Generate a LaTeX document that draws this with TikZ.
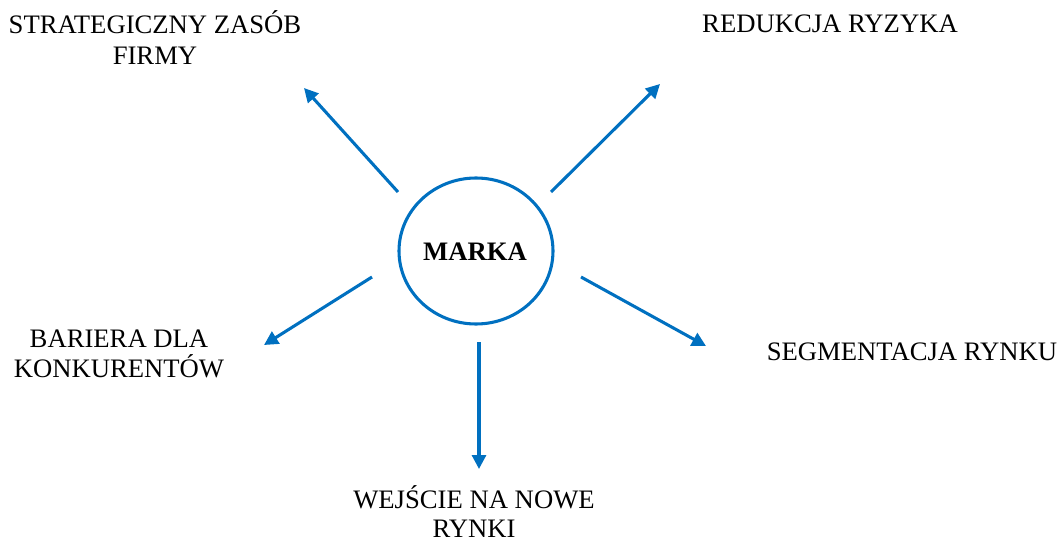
\documentclass[tikz,border=0pt]{standalone}
\usepackage{fontspec}
\setmainfont{Liberation Serif}
\usetikzlibrary{arrows.meta}
\definecolor{wordblue}{HTML}{0070C0}
\begin{document}
\begin{tikzpicture}[x=0.75pt,y=-0.75pt,
  txt/.style={align=center,anchor=base,inner sep=0pt,font=\fontsize{20}{#1}\selectfont},
  txt/.default=22.5pt,
  link/.style={draw=wordblue,line width=2.3pt,-{Triangle[length=10.5pt,width=10.5pt]}}]
  \useasboundingbox (0,0) rectangle (1061,542);
  % central brand ellipse
  \draw[wordblue,line width=2.3pt] (476,251) ellipse [x radius=77, y radius=73];
  \node[txt,font=\fontsize{20}{24}\selectfont\bfseries] (brand) at (475,260) {MARKA};
  % outer labels (placed by the baseline of their last line)
  \node[txt=24pt] (res) at (155,65) {STRATEGICZNY ZASÓB\\FIRMY};
  \node[txt] (risk) at (830,33) {REDUKCJA RYZYKA};
  \node[txt=22.5pt] (bar) at (119,377) {BARIERA DLA\\KONKURENTÓW};
  \node[txt] (seg) at (912,360) {SEGMENTACJA RYNKU};
  \node[txt=21.5pt] (mkt) at (474,537) {WEJŚCIE NA NOWE\\RYNKI};
  % arrow end points
  \coordinate (a1) at (398,192); \coordinate (b1) at (304,88);
  \coordinate (a2) at (551,192); \coordinate (b2) at (660,84);
  \coordinate (a3) at (372,277); \coordinate (b3) at (264,345);
  \coordinate (a4) at (479,342); \coordinate (b4) at (479,469);
  \coordinate (a5) at (581,277); \coordinate (b5) at (706,346);
  \draw[link] (a1) -- (b1);
  \draw[link] (a2) -- (b2);
  \draw[link] (a3) -- (b3);
  \draw[link] (a4) -- (b4);
  \draw[link] (a5) -- (b5);
\end{tikzpicture}
\end{document}
